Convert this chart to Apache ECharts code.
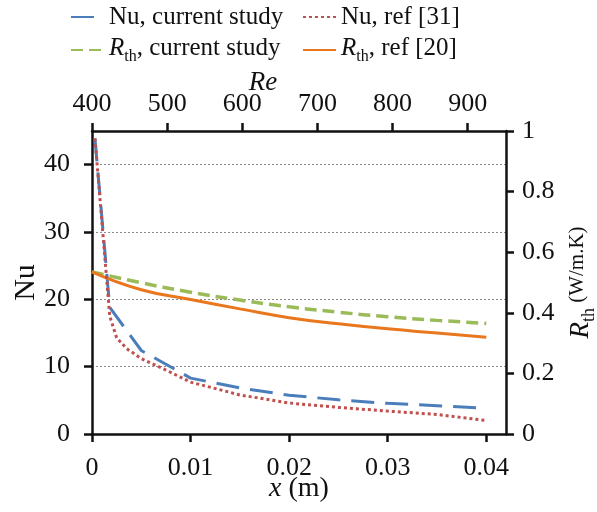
<!DOCTYPE html>
<html>
<head>
<meta charset="utf-8">
<style>
  html, body { margin: 0; padding: 0; background: #fff; }
  #chart { width: 597px; height: 512px; }
</style>
</head>
<body>
<div id="chart"></div>
<script src="https://cdn.jsdelivr.net/npm/echarts@6/dist/echarts.min.js"></script>
<script>
// Nu, current study (left axis)
const nuCurrentX = [0.0003, 0.0018, 0.005, 0.01, 0.015, 0.02, 0.025, 0.03, 0.035, 0.04];
const nuCurrentY = [43.9, 18.8, 12.4, 8.3, 6.85, 5.75, 5.08, 4.55, 4.2, 3.82];

// Nu, ref [31] (left axis)
const nuRefX = [0.0003, 0.0018, 0.0025, 0.0035, 0.005, 0.0075, 0.01, 0.015, 0.02, 0.025, 0.03, 0.035, 0.04];
const nuRefY = [43.9, 17.5, 14.3, 12.7, 11.2, 9.5, 7.7, 5.8, 4.6, 3.95, 3.4, 2.9, 2.0];

// Rth, current study and ref [20] (right axis)
const rthX = [0, 0.005, 0.01, 0.015, 0.02, 0.025, 0.03, 0.035, 0.04];
const rthCurrentY = [0.535, 0.499, 0.468, 0.442, 0.42, 0.402, 0.387, 0.375, 0.365];
const rthRefY = [0.535, 0.476, 0.444, 0.413, 0.384, 0.364, 0.347, 0.333, 0.319];

// tick positions
const xTicks = [0, 0.01, 0.02, 0.03, 0.04];
const reTicks = [400, 500, 600, 700, 800, 900];
const nuTicks = [0, 10, 20, 30, 40];

const legendLabels = {
  nuCur: 'Nu, current study',
  nuRef: 'Nu, ref [31]',
  rthCur: '{r|R}{s|th}{t|, current study}',
  rthRef: '{r|R}{s|th}{t|, ref [20]}'
};

const zip = (xs, ys) => xs.map((x, i) => [x, ys[i]]);

const FONT = 'Liberation Serif';
const black = '#111';

const legendText = {
  fontFamily: FONT, fontSize: 25, color: black, lineHeight: 28,
  rich: {
    r: { fontFamily: FONT, fontSize: 25, fontStyle: 'italic', color: black, lineHeight: 28, verticalAlign: 'top' },
    s: { fontFamily: FONT, fontSize: 16, color: black, lineHeight: 16, padding: [14, 0, 0, 0] },
    t: { fontFamily: FONT, fontSize: 25, color: black, lineHeight: 28, verticalAlign: 'top' }
  }
};

// fresh objects per axis (sharing one object broke the top axis)
function line() {
  return { show: true, onZero: false, lineStyle: { color: black, width: 2.5 } };
}
function ticks(values) {
  const t = { show: true, inside: false, length: 8, lineStyle: { color: black, width: 2.5 } };
  if (values) t.customValues = values;
  return t;
}
function labels(margin, values) {
  const l = { margin: margin, fontFamily: FONT, fontSize: 26, color: black };
  if (values) l.customValues = values;
  return l;
}

const chart = echarts.init(document.getElementById('chart'));
chart.setOption({
  animation: false,
  backgroundColor: '#fff',
  grid: { left: 92, right: 91, top: 131, bottom: 78, containLabel: false, outerBoundsMode: 'none' },
  legend: [
    {
      orient: 'vertical', left: 65, top: -2, itemWidth: 33, itemHeight: 14, itemGap: 4,
      data: ['nuCur', 'rthCur'],
      formatter: n => legendLabels[n],
      itemStyle: { opacity: 0 },
      textStyle: legendText
    },
    {
      orient: 'vertical', left: 297, top: -2, itemWidth: 33, itemHeight: 14, itemGap: 4,
      data: ['nuRef', 'rthRef'],
      formatter: n => legendLabels[n],
      itemStyle: { opacity: 0 },
      textStyle: legendText
    }
  ],
  xAxis: [
    {
      type: 'value', position: 'bottom', min: 0, max: 0.042, interval: 0.01,
      name: '{i|x} (m)', nameLocation: 'middle', nameGap: 41, nameMoveOverlap: false,
      nameTextStyle: { fontFamily: FONT, fontSize: 28, color: black,
        rich: { i: { fontFamily: FONT, fontSize: 28, fontStyle: 'italic', color: black } } },
      axisLine: line(),
      axisTick: ticks(xTicks),
      axisLabel: labels(21, xTicks),
      splitLine: { show: false }
    },
    {
      type: 'value', position: 'top', min: 400, max: 951, interval: 100,
      name: 'Re', nameLocation: 'middle', nameGap: 35, nameMoveOverlap: false,
      nameTextStyle: { fontFamily: FONT, fontSize: 27, fontStyle: 'italic', color: black, padding: [0, 72, 0, 0] },
      axisLine: line(),
      axisTick: ticks(reTicks),
      axisLabel: labels(14, reTicks),
      splitLine: { show: false }
    }
  ],
  yAxis: [
    {
      type: 'value', position: 'left', min: 0, max: 45, interval: 10,
      name: 'Nu', nameLocation: 'middle', nameGap: 51, nameRotate: 90, nameMoveOverlap: false,
      nameTextStyle: { fontFamily: FONT, fontSize: 30, color: black },
      axisLine: line(),
      axisTick: ticks(nuTicks),
      axisLabel: labels(22, nuTicks),
      splitLine: { show: true, lineStyle: { color: '#8a8a8a', width: 1, type: [2, 2] } }
    },
    {
      type: 'value', position: 'right', min: 0, max: 1, interval: 0.2,
      name: '{r|R}{s|th}{u| (W/m.K)}', nameLocation: 'middle', nameGap: 61, nameRotate: 90, nameMoveOverlap: false,
      nameTextStyle: {
        fontFamily: FONT, fontSize: 21, color: black,
        rich: {
          r: { fontFamily: FONT, fontSize: 27, fontStyle: 'italic', color: black, lineHeight: 30, verticalAlign: 'top' },
          s: { fontFamily: FONT, fontSize: 18, color: black, lineHeight: 18, padding: [15, 0, 0, 0] },
          u: { fontFamily: FONT, fontSize: 21, color: black, lineHeight: 30, verticalAlign: 'top' }
        }
      },
      axisLine: line(),
      axisTick: ticks(),
      axisLabel: labels(16),
      splitLine: { show: false }
    }
  ],
  series: [
    {
      name: 'nuCur', type: 'line', xAxisIndex: 0, yAxisIndex: 0, symbol: 'none',
      data: zip(nuCurrentX, nuCurrentY),
      lineStyle: { color: '#4a7ebb', width: 3, type: [23, 11] },
      itemStyle: { color: '#4a7ebb' }, z: 3
    },
    {
      name: 'nuRef', type: 'line', xAxisIndex: 0, yAxisIndex: 0, symbol: 'none',
      data: zip(nuRefX, nuRefY),
      lineStyle: { color: '#c0504d', width: 3, type: [3, 3] },
      itemStyle: { color: '#c0504d' }, z: 4
    },
    {
      name: 'rthCur', type: 'line', xAxisIndex: 0, yAxisIndex: 1, symbol: 'none', smooth: true,
      data: zip(rthX, rthCurrentY),
      lineStyle: { color: '#9bbb59', width: 3.5, type: [12, 6] },
      itemStyle: { color: '#9bbb59' }, z: 3
    },
    {
      name: 'rthRef', type: 'line', xAxisIndex: 0, yAxisIndex: 1, symbol: 'none', smooth: true,
      data: zip(rthX, rthRefY),
      lineStyle: { color: '#e9771e', width: 3 },
      itemStyle: { color: '#e9771e' }, z: 3
    }
  ]
});
</script>
</body>
</html>
